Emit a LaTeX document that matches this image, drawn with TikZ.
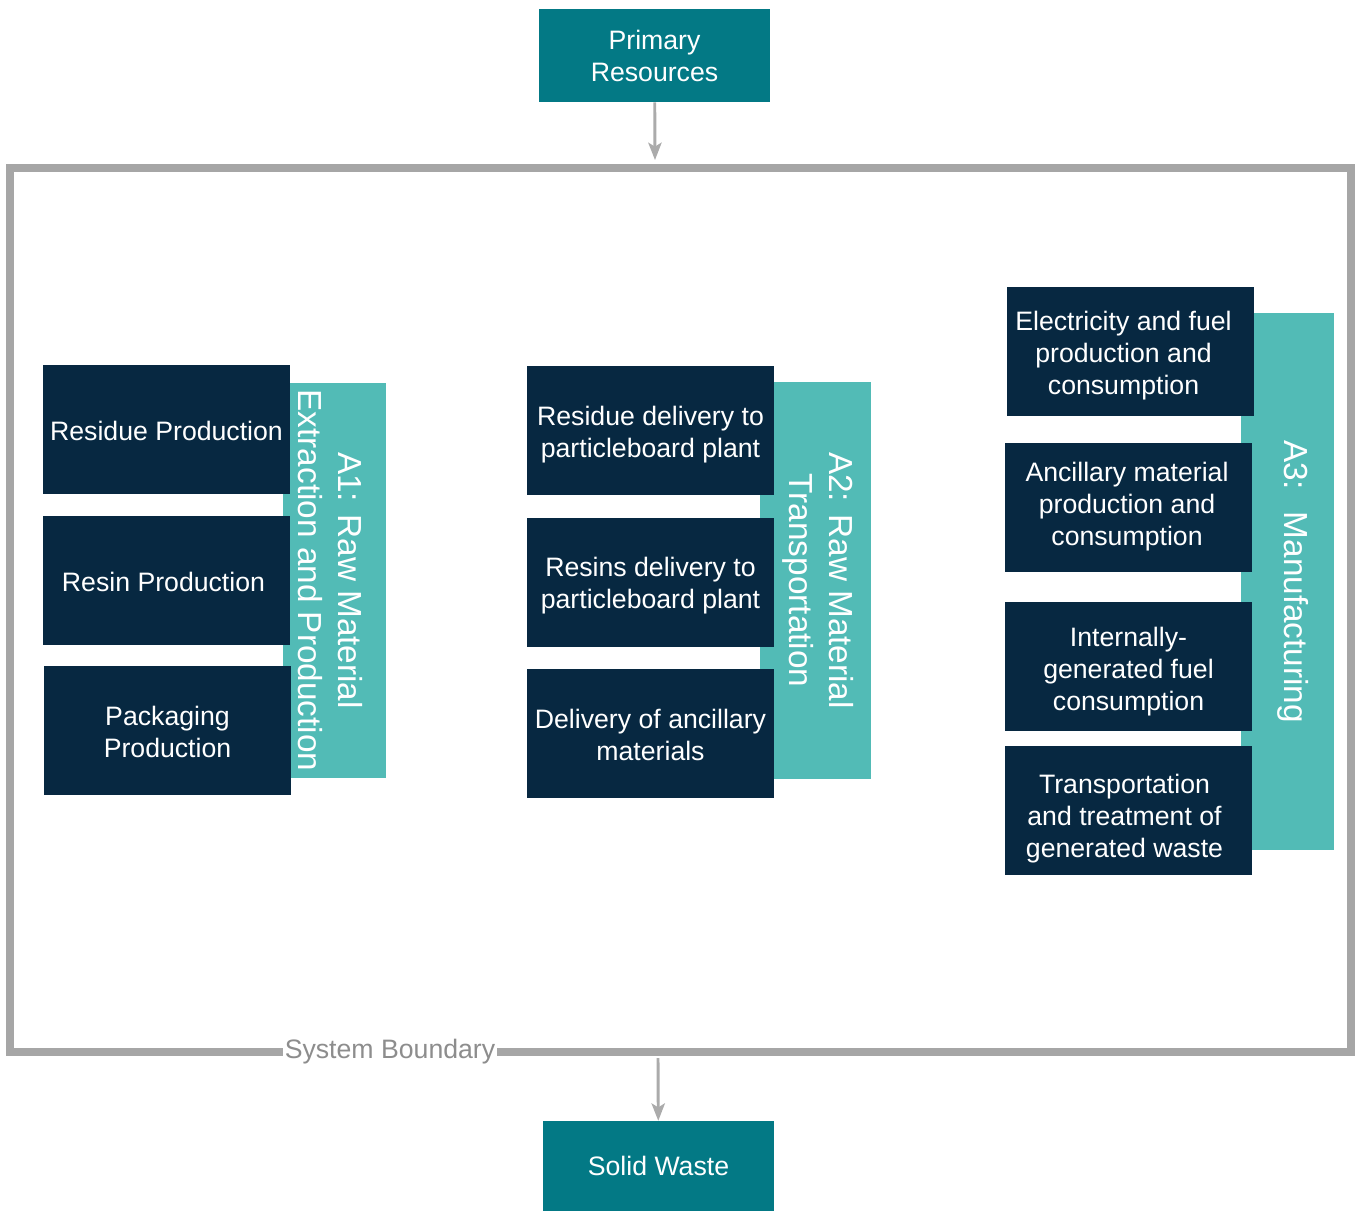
\documentclass[tikz,border=0pt]{standalone}
\usepackage{fontspec}
\setmainfont{Liberation Sans}
\usepackage{tikz}
\usetikzlibrary{arrows.meta, positioning}
\definecolor{teal}{HTML}{037985}
\definecolor{navy}{HTML}{072841}
\definecolor{band}{HTML}{52BBB6}
\definecolor{bgrey}{HTML}{A6A6A6}
\definecolor{agrey}{HTML}{ABABAB}
\newcommand\lblfont{\fontsize{20}{24}\selectfont}
\newcommand\stagefont{\fontsize{25}{30}\selectfont}

\begin{document}
\begin{tikzpicture}[x=0.75pt, y=-0.75pt,
    darkbox/.style={fill=navy, inner sep=0pt, minimum width=185.25pt, minimum height=96.75pt},
    boxtext/.style={text=white, inner sep=0pt, align=center, font=\lblfont},
    endbox/.style={fill=teal, text=white, inner sep=0pt, align=center, font=\lblfont,
        minimum width=173.25pt},
    stagebox/.style={fill=band, inner sep=0pt},
    stagetext/.style={text=white, inner sep=0pt, align=center, font=\stagefont, rotate=-90},
    flow/.style={draw=agrey, line width=2.2pt, -{Stealth[length=13pt, width=10pt, inset=3pt]}}]
        \useasboundingbox (0,0) rectangle (1358,1212);
        % system boundary
        \draw[bgrey, line width=6pt] (10,168) rectangle (1351,1052);
        \node[fill=white, text=bgrey!85!black, inner sep=1pt, font=\lblfont] (sysb) at (390,1052) {System Boundary};
        % inputs and outputs
        \node[endbox, minimum height=69.75pt] (prim) at (654.5,55.5) {Primary\\Resources};
        \node[endbox, minimum height=67.5pt] (waste) at (658.5,1166) {Solid Waste};
        \coordinate (intop) at (655,160);
        \coordinate (outbot) at (658,1058);
        \draw[flow] (prim) -- (intop);
        \draw[flow] (outbot) -- (waste);
        % stage bands (drawn first, boxes overlap them)
        \node[stagebox, minimum width=77.25pt, minimum height=296.25pt] (a1) at (334.5,580.5) {};
        \node[stagebox, minimum width=83.25pt, minimum height=297.75pt] (a2) at (815.5,580.5) {};
        \node[stagebox, minimum width=69.75pt, minimum height=402.75pt] (a3) at (1287.5,581.5) {};
        \node[stagetext] (a1t) at ([shift={(-4.5,0)}]a1) {A1: Raw Material\\Extraction and Production};
        \node[stagetext] (a2t) at ([shift={(3,0)}]a2) {A2: Raw Material\\Transportation};
        \node[stagetext] (a3t) at ([shift={(5.5,0)}]a3) {A3:~ Manufacturing};
        % A1 processes
        \node[darkbox] (resprod) at (166.5,429.5) {};
        \node[darkbox] (resinprod) at (166.5,580.5) {};
        \node[darkbox] (packprod) at (167.5,730.5) {};
        \node[boxtext] at ([shift={(0,1)}]resprod) {Residue Production};
        \node[boxtext] at ([shift={(-3,1)}]resinprod) {Resin Production};
        \node[boxtext] at ([shift={(0,1)}]packprod) {Packaging\\Production};
        % A2 processes
        \node[darkbox] (resdel) at (650.5,430.5) {};
        \node[darkbox] (resindel) at (650.5,582.5) {};
        \node[darkbox] (ancdel) at (650.5,733.5) {};
        \node[boxtext] at ([shift={(0,4)}]resdel) {Residue delivery to\\particleboard plant};
        \node[boxtext] at ([shift={(0,3)}]resindel) {Resins delivery to\\particleboard plant};
        \node[boxtext] at ([shift={(0,1)}]ancdel) {Delivery of ancillary\\materials};
        % A3 processes
        \node[darkbox] (elec) at (1130.5,351.5) {};
        \node[darkbox] (ancprod) at (1128.5,507.5) {};
        \node[darkbox] (intfuel) at (1128.5,666.5) {};
        \node[darkbox] (wastetr) at (1128.5,810.5) {};
        \node[boxtext] at ([shift={(-7,4)}]elec) {Electricity and fuel\\production and\\consumption};
        \node[boxtext] at ([shift={(-1.5,-1)}]ancprod) {Ancillary material\\production and\\consumption};
        \node[boxtext] at ([shift={(0,5)}]intfuel) {Internally-\\generated fuel\\consumption};
        \node[boxtext] at ([shift={(-4,8)}]wastetr) {Transportation\\and treatment of\\generated waste};
\end{tikzpicture}
\end{document}
